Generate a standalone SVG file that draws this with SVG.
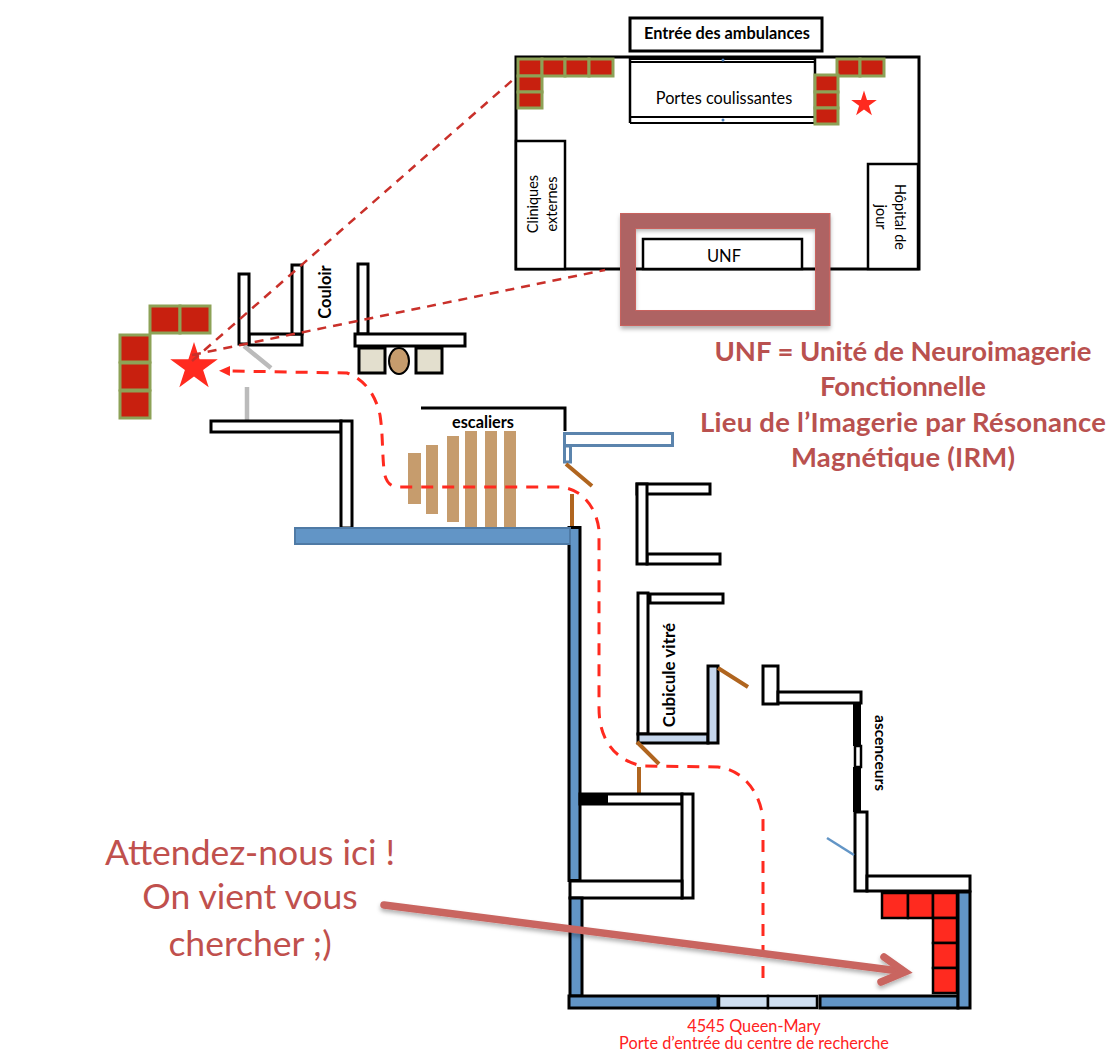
<svg xmlns="http://www.w3.org/2000/svg" width="1118" height="1050" viewBox="0 0 1118 1050">
<style>
text{font-family:Lato,"Liberation Sans",sans-serif;text-anchor:middle;fill:#000}
.w{fill:#fff;stroke:#000;stroke-width:3}
.thin{fill:#fff;stroke:#000;stroke-width:2.500}
.b{fill:#6295c6;stroke:#000;stroke-width:3}
.lb{fill:#c5d6ec;stroke:#000;stroke-width:3}
.db{fill:#cfdff1;stroke:#000;stroke-width:2.500}
.g{fill:#c8200f;stroke:#8da257;stroke-width:3}
.r{fill:#ff2a1f;stroke:#000;stroke-width:2.500}
.st{fill:#c69c6d}
.br{stroke:#b0651f;stroke-width:4;fill:none}
.gr{stroke:#bbb;stroke-width:4.500;fill:none}
.t{font-size:16.3px}
.v{font-size:14.500px}
.bd{font-weight:700}
.rt{fill:#b9514f;font-size:27.500px;font-weight:700}
.at{fill:#c0504d;font-size:35.500px}
.adr{fill:#f22;font-size:16.300px}
.route{fill:none;stroke:#ff2a1f;stroke-width:3;stroke-dasharray:12 9}
.zoomln{fill:none;stroke:#c9302a;stroke-width:2.500;stroke-dasharray:9 7}
</style>
<defs>
<filter id="sh" x="-10%" y="-10%" width="120%" height="125%"><feDropShadow dx="0" dy="3" stdDeviation="2" flood-color="#000" flood-opacity=".3"/></filter>
<marker id="ah" markerUnits="userSpaceOnUse" markerWidth="12" markerHeight="12" refX="1" refY="6" orient="auto"><path d="M0 1 L11 6 L0 11Z" fill="#ff2a1f"/></marker>
</defs>

<g id="hall">
<rect class="w" x="516" y="57" width="403" height="212"/>
<path d="M630 59H815M630 62H815M630 117H815M630 123H815" stroke="#000" stroke-width="2" fill="none"/>
<path d="M630 58V123M815 58V123" stroke="#000" stroke-width="2.500" fill="none"/>
<circle cx="723" cy="60" r="1.500" fill="#4f81bd"/><circle cx="723" cy="120" r="1.500" fill="#4f81bd"/>
<text class="t" x="724" y="104">Portes coulissantes</text>
<g class="tiles">
<rect class="g" x="518" y="59" width="24" height="17"/><rect class="g" x="542" y="59" width="23" height="17"/><rect class="g" x="565" y="59" width="24" height="17"/><rect class="g" x="589" y="59" width="24" height="17"/>
<rect class="g" x="518" y="76" width="24" height="16"/><rect class="g" x="518" y="92" width="24" height="16"/>
<rect class="g" x="837" y="59" width="23" height="17"/><rect class="g" x="860" y="59" width="24" height="17"/>
<rect class="g" x="815" y="75" width="23" height="17"/><rect class="g" x="815" y="92" width="23" height="16"/><rect class="g" x="815" y="108" width="23" height="16"/>
</g>
<path d="M864 90.500l3 9.500h9.800l-7.900 5.800 3 9.500-7.900-5.900-7.900 5.900 3-9.500-7.900-5.800h9.800z" fill="#ff2a1f"/>
</g>
<g id="entree"><rect class="w" x="630" y="18" width="192" height="33"/><text class="bd t" x="727" y="39">Entrée des ambulances</text></g>
<g id="cliniques"><rect class="thin" x="516" y="141" width="49" height="128"/><text class="v" transform="translate(538 204) rotate(-90)">Cliniques</text><text class="v" transform="translate(557 204) rotate(-90)">externes</text></g>
<g id="hopital"><rect class="thin" x="868" y="164" width="50" height="105"/><text class="v" transform="translate(895 217) rotate(90)">Hôpital de</text><text class="v" transform="translate(876 217) rotate(90)">jour</text></g>
<g id="unf"><rect class="thin" x="643" y="239" width="159" height="30"/><text x="724" y="262" font-size="16.500">UNF</text>
<rect x="628" y="220.500" width="195" height="98" fill="none" stroke="#ae6464" stroke-width="15" filter="url(#sh)"/>
<rect x="620.500" y="213.500" width="209" height="112" fill="none" stroke="#c9625e" stroke-width="1"/>
<rect x="635.500" y="228.500" width="180" height="82" fill="none" stroke="#c9625e" stroke-width="1"/></g>

<g id="couloir">
<rect class="w" x="249" y="334" width="53" height="11"/>
<rect class="w" x="239" y="274" width="10" height="70"/>
<rect class="w" x="292" y="265" width="10" height="69"/>
<rect class="w" x="358" y="264" width="10" height="70"/>
<rect class="w" x="355" y="334" width="110" height="12"/>
<text class="bd" font-size="16.500" transform="translate(331 292) rotate(-90)">Couloir</text>
<rect x="359" y="348" width="26" height="25" fill="#e3dfce" stroke="#000" stroke-width="3"/>
<rect x="416" y="348" width="26" height="25" fill="#e3dfce" stroke="#000" stroke-width="3"/>
<ellipse cx="399" cy="361" rx="10" ry="13" fill="#c69c6d" stroke="#000" stroke-width="2"/>
<path class="gr" d="M244 346L271 368M247 387V420"/>
</g>
<g id="waiting">
<rect class="g" x="150" y="306" width="30" height="27"/><rect class="g" x="180" y="306" width="30" height="27"/>
<rect class="g" x="120" y="335" width="30" height="27"/><rect class="g" x="120" y="363" width="30" height="27"/><rect class="g" x="120" y="391" width="30" height="27"/>
<path d="M194 342l5.600 17.300h18.200l-14.700 10.700 5.600 17.300-14.700-10.700-14.700 10.700 5.600-17.300-14.700-10.700h18.200z" fill="#ff2a1f"/>
</g>

<g id="walls">
<rect class="w" x="211" y="421" width="130" height="11"/>
<rect class="w" x="341" y="421" width="11" height="107"/>
<path d="M421 408H565V431" fill="none" stroke="#000" stroke-width="3"/>
<rect x="564.500" y="433.500" width="108" height="12" fill="#fff" stroke="#5b84ad" stroke-width="3"/>
<rect x="564.500" y="446" width="6" height="16" fill="#fff" stroke="#5b84ad" stroke-width="3"/>
<path class="br" d="M566 464L592 486M572 494V527"/>
<rect class="st" x="408" y="453" width="13" height="51"/><rect class="st" x="426" y="445" width="12" height="69"/><rect class="st" x="447" y="436" width="12" height="86"/><rect class="st" x="465" y="431" width="12" height="96"/><rect class="st" x="485" y="431" width="12" height="96"/><rect class="st" x="504" y="431" width="12" height="96"/>
<text class="bd" font-size="16.300" x="483" y="428">escaliers</text>
<rect x="569" y="527.500" width="11" height="353" class="b"/>
<rect x="295" y="528" width="275" height="16" fill="#6295c6" stroke="#4f7aa5" stroke-width="2"/>

<rect class="w" x="637" y="484" width="73" height="10"/>
<rect class="w" x="647" y="554" width="73" height="10"/>
<rect class="w" x="637" y="484" width="10" height="80"/>

<rect class="w" x="650" y="594" width="73" height="9"/>
<rect class="w" x="638" y="593" width="10" height="141"/>
<rect class="lb" x="638" y="734" width="70" height="9"/>
<rect class="lb" x="708" y="666" width="10" height="77"/>
<text class="bd" font-size="17" transform="translate(675 675) rotate(-90)">Cubicule vitré</text>
<path class="br" d="M637 742L659 764M718 668L748 687M639 767V793"/>

<rect class="w" x="763" y="666" width="15" height="38"/>
<rect class="w" x="778" y="692" width="83" height="11"/>
<rect x="853" y="703" width="8" height="43" fill="#000"/><rect class="thin" x="855" y="746" width="6" height="21"/><rect x="853" y="767" width="8" height="45" fill="#000"/>
<rect class="w" x="855" y="812" width="12" height="79"/>
<rect class="w" x="867" y="876" width="103" height="15"/>
<text class="bd" font-size="15.500" transform="translate(875 753) rotate(90)">ascenceurs</text>
<path d="M827 838L854 855" stroke="#6295c6" stroke-width="2.500" fill="none"/>

<rect class="w" x="580" y="794" width="102" height="10"/>
<rect x="580" y="793" width="28" height="11" fill="#000"/>
<rect class="w" x="682" y="794" width="11" height="104"/>
<rect class="w" x="570" y="881" width="112" height="17"/>

<rect class="b" x="570" y="898" width="12" height="98"/>
<rect class="b" x="569" y="996" width="149" height="12"/>
<rect class="db" x="719" y="996" width="49" height="12"/>
<rect class="db" x="768" y="996" width="49" height="12"/>
<rect class="b" x="820" y="996" width="138" height="12"/>
<rect class="b" x="958" y="892" width="12" height="116"/>
<rect class="r" x="882" y="893" width="26" height="25"/><rect class="r" x="908" y="893" width="25" height="25"/><rect class="r" x="933" y="893" width="24" height="25"/>
<rect class="r" x="933" y="918" width="24" height="25"/><rect class="r" x="933" y="943" width="24" height="25"/><rect class="r" x="933" y="968" width="24" height="25"/>
</g>

<g id="connectors">
<path class="zoomln" d="M192 361L515 78M192 355L605 270"/>
<path class="route" marker-end="url(#ah)" d="M763 978V820C761 795 745 770 718 767L642 766C615 760 599 740 599 708V530C596 505 580 487 557 487H398C390 487 385 481 384 470C382 450 383 435 380 415C375 392 362 378 347 373L229 371"/>
<g filter="url(#sh)" fill="none" stroke="#c96561" stroke-width="7.500" stroke-linecap="round" stroke-linejoin="miter"><path d="M384 905L903 971.500"/><path d="M884 957L905 972L881 982"/></g>
</g>

<g id="labels">
<text class="rt" x="903" y="361" textLength="377">UNF = Unité de Neuroimagerie</text>
<text class="rt" x="903" y="396" textLength="166">Fonctionnelle</text>
<text class="rt" x="903" y="432" textLength="406">Lieu de l’Imagerie par Résonance</text>
<text class="rt" x="903" y="467" textLength="224">Magnétique (IRM)</text>
<text class="at" x="250" y="865">Attendez-nous ici !</text>
<text class="at" x="250" y="909">On vient vous</text>
<text class="at" x="250" y="956">chercher ;)</text>
<text class="adr" x="754" y="1032">4545 Queen-Mary</text>
<text class="adr" x="754" y="1049">Porte d’entrée du centre de recherche</text>
</g>
</svg>
